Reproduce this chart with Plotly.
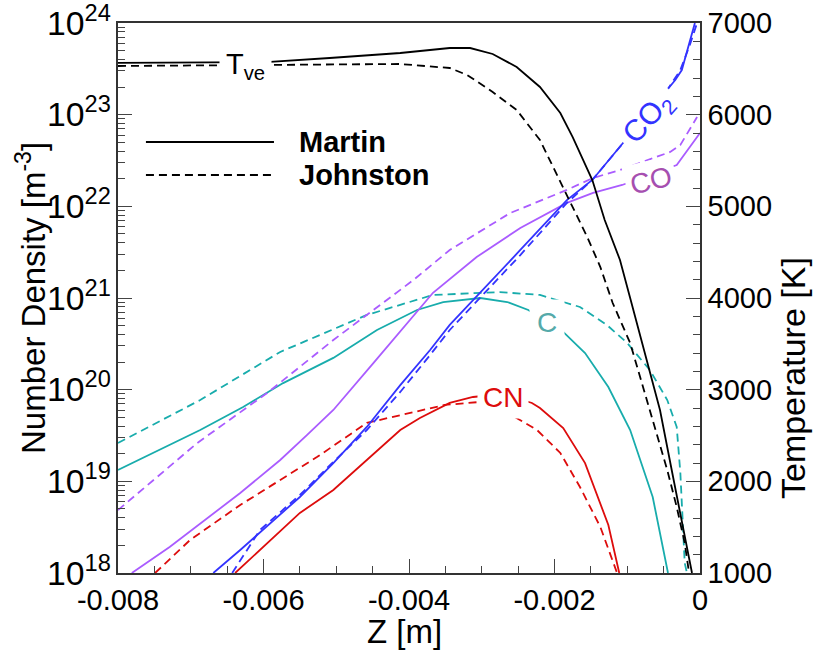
import plotly.graph_objects as go

# ---- species number densities [m^-3] versus Z [m] ----
z_co2_m = [-0.00669, -0.00632, -0.00550, -0.00504, -0.00458, -0.00412, -0.00371, -0.00344,
           -0.00247, -0.00183, -0.00148, -0.00106, -0.00045, -0.00034, -0.00025, -0.00007]
n_co2_m = [1.0e18, 1.78e18, 6.75e18, 1.58e19, 3.92e19, 1.12e20, 2.71e20, 5.08e20,
           3.34e21, 1.17e22, 1.94e22, 4.91e22, 1.86e23, 2.39e23, 3.07e23, 1.0e24]
z_co2_j = [-0.00643, -0.00605, -0.00550, -0.00504, -0.00458, -0.00412, -0.00371, -0.00344,
           -0.00247, -0.00183, -0.00148, -0.00106, -0.00045, -0.00027, -0.00014, -0.00004]
n_co2_j = [1.0e18, 2.94e18, 7.10e18, 1.63e19, 3.63e19, 9.44e19, 2.39e20, 4.48e20,
           2.94e21, 1.09e22, 1.94e22, 4.91e22, 1.86e23, 3.07e23, 5.75e23, 1.0e24]

z_co_m = [-0.00781, -0.00729, -0.00632, -0.00577, -0.00540, -0.00504, -0.00449, -0.00385,
          -0.00367, -0.00307, -0.00247, -0.00183, -0.00147, -0.00107, -0.00032, 0.0]
n_co_m = [1.0e18, 1.92e18, 7.46e18, 1.71e19, 3.21e19, 6.0e19, 1.95e20, 7.78e20,
          1.14e21, 2.80e21, 5.81e21, 1.09e22, 1.40e22, 1.71e22, 2.82e22, 6.31e22]
z_co_j = [-0.00800, -0.00691, -0.00595, -0.00504, -0.00394, -0.00344, -0.00261, -0.00183,
          -0.00147, -0.00110, -0.00041, -0.00027, -0.00004]
n_co_j = [4.86e18, 2.62e19, 9.20e19, 3.48e20, 1.57e21, 3.34e21, 8.45e21, 1.51e22,
          2.04e22, 2.49e22, 3.92e22, 4.67e22, 9.44e22]

z_c_m = [-0.00800, -0.00738, -0.00687, -0.00628, -0.00573, -0.00504, -0.00444, -0.00389,
         -0.00353, -0.00302, -0.00265, -0.00236, -0.00188, -0.00158, -0.00126, -0.00096,
         -0.00065, -0.00044]
n_c_m = [1.33e19, 2.31e19, 3.63e19, 6.47e19, 1.18e20, 2.22e20, 4.48e20, 7.40e20,
         9.04e20, 1.0e21, 9.04e20, 7.40e20, 4.26e20, 2.51e20, 1.07e20, 3.63e19,
         6.75e18, 1.0e18]
z_c_j = [-0.00800, -0.00687, -0.00577, -0.00458, -0.00367, -0.00275, -0.00220, -0.00165,
         -0.00128, -0.00100, -0.00069, -0.00045, -0.00032, -0.00027, -0.00021, -0.00018]
n_c_j = [2.62e19, 7.71e19, 2.58e20, 6.53e20, 1.08e21, 1.16e21, 1.08e21, 7.98e20,
         5.08e20, 3.23e20, 1.64e20, 7.71e19, 3.92e19, 1.23e19, 1.29e18, 1.0e18]

z_cn_m = [-0.00639, -0.00550, -0.00504, -0.00454, -0.00412, -0.00385, -0.00344, -0.00312,
          -0.00271, -0.00231, -0.00220, -0.00188, -0.00158, -0.00126, -0.00111]
n_cn_m = [1.0e18, 4.52e18, 8.05e18, 1.85e19, 3.63e19, 4.91e19, 7.16e19, 8.32e19,
          8.97e19, 7.16e19, 6.31e19, 3.82e19, 1.58e19, 3.34e18, 1.0e18]
z_cn_j = [-0.00749, -0.00701, -0.00632, -0.00550, -0.00526, -0.00458, -0.00394, -0.00351,
          -0.00302, -0.00275, -0.00264, -0.00224, -0.00192, -0.00165, -0.00137, -0.00114]
n_cn_j = [1.0e18, 2.29e18, 5.52e18, 1.40e19, 1.85e19, 4.34e19, 5.71e19, 6.81e19,
          7.35e19, 6.98e19, 5.57e19, 3.63e19, 2.04e19, 8.67e18, 3.18e18, 1.0e18]

# ---- vibrational-electronic temperature [K] ----
z_t_m = [-0.00800, -0.00591, -0.00509, -0.00412, -0.00344, -0.00316, -0.00285, -0.00252,
         -0.00220, -0.00192, -0.00175, -0.00161, -0.00148, -0.00131, -0.00110, -0.00096,
         -0.00071, -0.00055, -0.00037, -0.00023, -0.00011]
t_m = [6564, 6575, 6618, 6673, 6727, 6727, 6662, 6520, 6302, 6018, 5756, 5505, 5287,
       4851, 4415, 4000, 3269, 2778, 2047, 1502, 1000]
z_t_j = [-0.00800, -0.00509, -0.00412, -0.00344, -0.00320, -0.00285, -0.00252, -0.00220,
         -0.00188, -0.00155, -0.00137, -0.00120, -0.00096, -0.00080, -0.00059, -0.00045,
         -0.00032, -0.00021, -0.00015]
t_j = [6531, 6542, 6553, 6509, 6433, 6247, 6051, 5724, 5211, 4665, 4338, 3945, 3509,
       3073, 2527, 2124, 1720, 1327, 1000]

x_ticks = [-0.008, -0.006, -0.004, -0.002, 0.0]
x_tick_text = ["-0.008", "-0.006", "-0.004", "-0.002", "0"]
decades = [18, 19, 20, 21, 22, 23]

BLUE = "#3333ff"
PURPLE = "#aa5cff"
TEAL = "#18acac"
RED = "#dd0c0c"
DASH = "8px,5px"
FONT = "Liberation Sans, Arial, sans-serif"

fig = go.Figure()

def add(x, y, color, dashed, axis="y"):
    fig.add_trace(go.Scatter(
        x=x, y=y, mode="lines", yaxis=axis, showlegend=False, hoverinfo="skip",
        line=dict(color=color, width=1.8, dash=DASH if dashed else "solid"),
    ))

add(z_c_m, n_c_m, TEAL, False)
add(z_c_j, n_c_j, TEAL, True)
add(z_co_m, n_co_m, PURPLE, False)
add(z_co_j, n_co_j, PURPLE, True)
add(z_cn_m, n_cn_m, RED, False)
add(z_cn_j, n_cn_j, RED, True)
add(z_co2_m, n_co2_m, BLUE, False)
add(z_co2_j, n_co2_j, BLUE, True)
add(z_t_m, t_m, "black", False, "y2")
add(z_t_j, t_j, "black", True, "y2")
# empty trace so the log minor-tick axis gets drawn
fig.add_trace(go.Scatter(x=[None], y=[None], yaxis="y3", showlegend=False, hoverinfo="skip"))

# species / temperature labels, each blanking the curve behind it
labels = [
    dict(x=-0.00071, y=22.96, text="CO<sub>2</sub>", color=BLUE, angle=-48, pad=6, size=30),
    dict(x=-0.00067, y=22.28, text="CO", color="#a64fb0", angle=-14, pad=4, size=28),
    dict(x=-0.00210, y=20.73, text="C", color="#55aaaa", angle=0, pad=7, size=28),
    dict(x=-0.00271, y=19.91, text="CN", color=RED, angle=0, pad=5, size=28),
]
for lb in labels:
    fig.add_annotation(x=lb["x"], y=lb["y"], xref="x", yref="y", text=lb["text"],
                       showarrow=False, textangle=lb["angle"], bgcolor="white",
                       borderpad=lb["pad"],
                       font=dict(family=FONT, size=lb["size"], color=lb["color"]))

fig.add_annotation(x=-0.00625, y=6530, xref="x", yref="y2", text="T<sub>ve</sub>",
                   showarrow=False, bgcolor="white", borderpad=6,
                   font=dict(family=FONT, size=29, color="black"))

# legend keys
fig.add_shape(type="line", xref="paper", yref="paper", x0=0.048, x1=0.268, y0=0.7836, y1=0.7836,
              line=dict(color="black", width=1.8))
fig.add_shape(type="line", xref="paper", yref="paper", x0=0.048, x1=0.268, y0=0.7236, y1=0.7236,
              line=dict(color="black", width=1.8, dash=DASH))
fig.add_annotation(x=0.307, y=0.7836, xref="paper", yref="paper", text="<b>Martin</b>",
                   showarrow=False, xanchor="left", yanchor="middle",
                   font=dict(family=FONT, size=29, color="black"))
fig.add_annotation(x=0.307, y=0.7236, xref="paper", yref="paper", text="<b>Johnston</b>",
                   showarrow=False, xanchor="left", yanchor="middle",
                   font=dict(family=FONT, size=29, color="black"))

# axis titles
fig.add_annotation(x=-0.1495, y=0.5, xref="paper", yref="paper", textangle=-90,
                   text="Number Density [m<sup>-3</sup>]", showarrow=False,
                   xanchor="center", yanchor="middle",
                   font=dict(family=FONT, size=33, color="black"))
fig.add_annotation(x=1.1598, y=0.3545, xref="paper", yref="paper", textangle=-90,
                   text="Temperature [K]", showarrow=False,
                   xanchor="center", yanchor="middle",
                   font=dict(family=FONT, size=34, color="black"))
fig.add_annotation(x=0.493, y=-0.107, xref="paper", yref="paper",
                   text="Z [m]", showarrow=False,
                   xanchor="center", yanchor="middle",
                   font=dict(family=FONT, size=33, color="black"))

axis_common = dict(showline=True, linecolor="#333333", linewidth=1.5, showgrid=False,
                   zeroline=False, ticks="inside", tickcolor="#444444", tickwidth=1.2,
                   automargin=False, ticklabeloverflow="allow",
                   tickfont=dict(family=FONT, size=29, color="black"))

log_minor = [m * 10.0 ** d for d in decades for m in range(2, 10)]

fig.update_layout(
    width=815, height=654,
    margin=dict(l=118, r=115, t=23, b=81),
    paper_bgcolor="white", plot_bgcolor="white",
    xaxis=dict(**axis_common, range=[-0.008, 0.0], mirror=True,
               tickmode="array", tickvals=x_ticks, ticktext=x_tick_text, ticklen=14,
               minor=dict(ticks="inside", dtick=0.0005, ticklen=7, tickcolor="#444444",
                          showgrid=False)),
    yaxis=dict(**{**axis_common, "tickfont": dict(family=FONT, size=27, color="black")},
               type="log", range=[18, 24], dtick=1, exponentformat="power",
               ticklen=14),
    yaxis3=dict(type="log", range=[18, 24], overlaying="y", side="left", anchor="x",
                tickmode="array", tickvals=log_minor, ticks="inside", ticklen=7,
                tickwidth=1.2, tickcolor="#444444", showticklabels=False,
                showline=False, showgrid=False, zeroline=False, automargin=False),
    yaxis2=dict(**axis_common, overlaying="y", side="right", range=[1000, 7000],
                dtick=1000, ticklen=14,
                minor=dict(ticks="inside", dtick=200, ticklen=7, tickcolor="#444444",
                           showgrid=False)),
)

fig.write_html("out.html")
